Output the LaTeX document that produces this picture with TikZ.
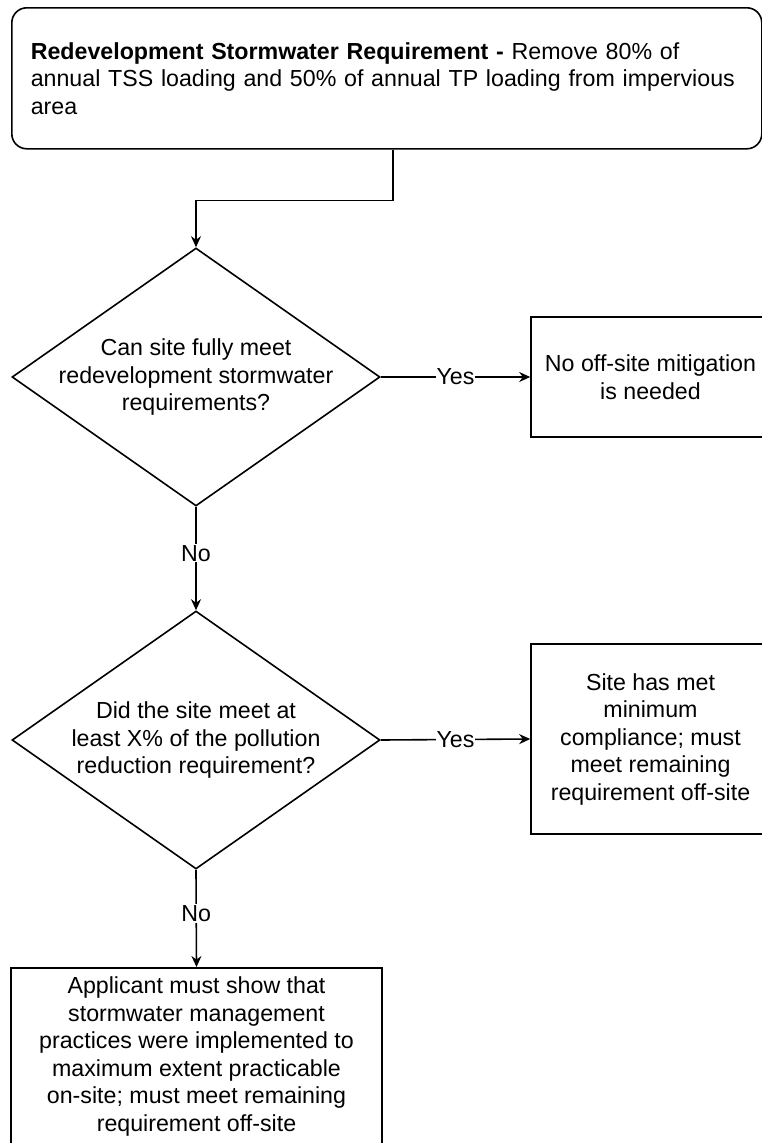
\documentclass[tikz,border=0pt]{standalone}
\usepackage{fontspec}
\setmainfont{Liberation Sans}
\usetikzlibrary{arrows.meta,shapes.geometric,positioning}
\tikzset{
	reqbox/.style={draw,rounded corners=15pt,line width=1.6pt,minimum width=750pt,minimum height=141pt,text width=712pt,inner xsep=19pt,align=left,anchor=north west},
	decision/.style={diamond,draw,line width=1.6pt,minimum width=368pt,minimum height=258pt,inner sep=0pt},
	qtext/.style={align=center,inner sep=0pt},
	outbox/.style={draw,line width=1.6pt,minimum width=239pt,align=center},
	flow/.style={->,>={Stealth[width=10pt,length=11pt]},line width=1.6pt},
	choice/.style={fill=white,inner sep=1pt}
}
\begin{document}
\begin{tikzpicture}[x=1pt,y=1pt,font=\fontsize{23.2}{27.5}\selectfont]
	\clip (0,0) rectangle (762,-1143);
	%%% requirement
	\node[reqbox] (req) at (11,-7) {\textbf{Redevelopment Stormwater Requirement -} Remove 80\% of\\annual TSS loading and 50\% of annual TP loading from impervious\\area};
	
	%%% questions
	\node[decision,label={[qtext]center:Can site fully meet\\redevelopment stormwater\\requirements?}] (q1) at (196,-377) {};
	\node[decision,label={[qtext]center:Did the site meet at\\least X\% of the pollution\\reduction requirement?}] (q2) at (196,-740) {};
	
	%%% outcomes
	\node[outbox,minimum height=120pt] (nomit) at (650.5,-377) {No off-site mitigation\\is needed};
	\node[outbox,minimum height=190pt] (minc) at (650.5,-739) {Site has met\\minimum\\compliance; must\\meet remaining\\requirement off-site};
	\node[outbox,minimum width=371pt,inner ysep=9pt,anchor=north] (mep) at (196.5,-967) {Applicant must show that\\stormwater management\\practices were implemented to\\maximum extent practicable\\on-site; must meet remaining\\requirement off-site};
	
	\draw[flow] ([xshift=6pt]req.south) -- ++(0,-51) -| (q1.north);
	\draw[flow] (q1.east) -- node[choice] (yes1) {Yes} (nomit.west);
	\draw[flow] (q1.south) -- node[choice,pos=0.45] (no1) {No} (q2.north);
	\draw[flow] (q2.east) -- node[choice] (yes2) {Yes} (minc.west);
	\draw[flow] (q2.south) -- node[choice,pos=0.45] (no2) {No} (mep.north);
\end{tikzpicture}
\end{document}
